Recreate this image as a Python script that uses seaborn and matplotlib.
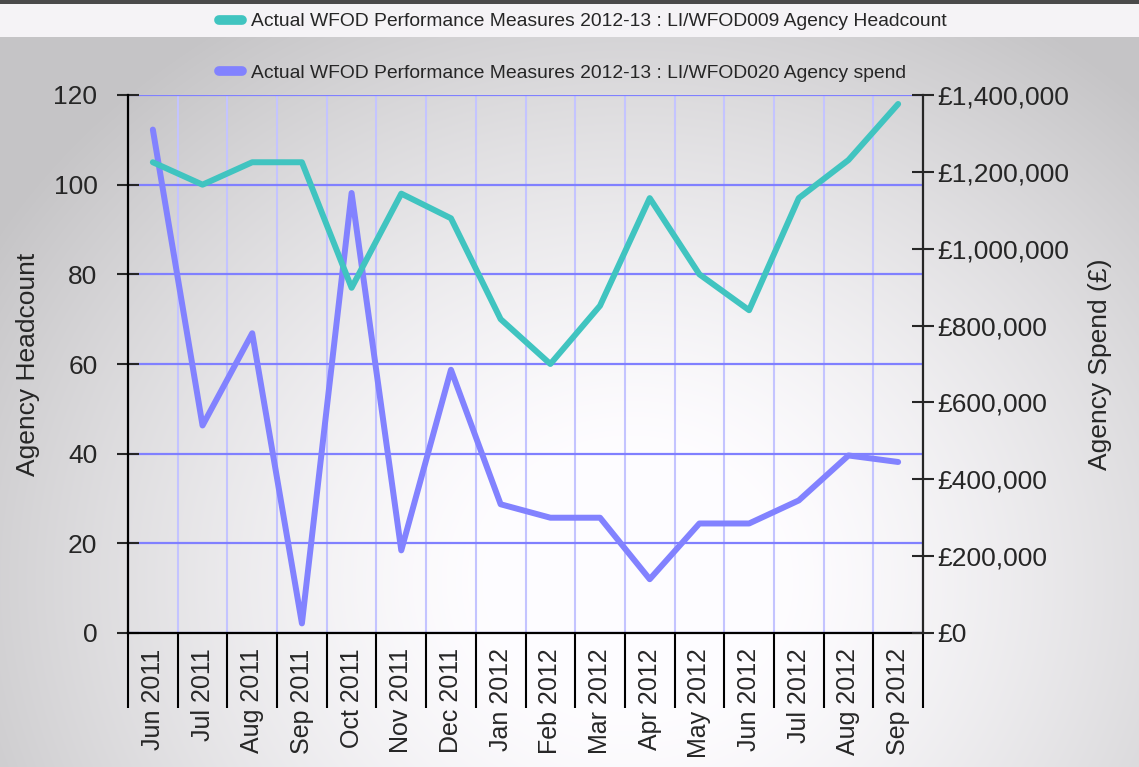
#!/usr/bin/env python3
"""
Agency headcount vs agency spend, dual axis line chart.
"""
import numpy as np
import pandas as pd
import matplotlib
matplotlib.use("Agg")
import matplotlib.pyplot as plt
import seaborn as sns
from matplotlib.ticker import FuncFormatter
from matplotlib.patches import Rectangle
from matplotlib.lines import Line2D

months = ["Jun 2011", "Jul 2011", "Aug 2011", "Sep 2011", "Oct 2011", "Nov 2011",
          "Dec 2011", "Jan 2012", "Feb 2012", "Mar 2012", "Apr 2012", "May 2012",
          "Jun 2012", "Jul 2012", "Aug 2012", "Sep 2012"]
headcount = [105, 100, 105, 105, 77, 98, 92.5, 70, 60, 73, 97, 80, 72, 97, 105.5, 118]
spend = [1310000, 540000, 780000, 25000, 1145000, 215000, 685000, 335000,
         300000, 300000, 140000, 285000, 285000, 345000, 462000, 445000]

headcount_ticks = [0, 20, 40, 60, 80, 100, 120]
spend_ticks = [0, 200000, 400000, 600000, 800000, 1000000, 1200000, 1400000]

label_head = "Actual WFOD Performance Measures 2012-13 : LI/WFOD009 Agency Headcount"
label_spend = "Actual WFOD Performance Measures 2012-13 : LI/WFOD020 Agency spend"

TEAL = "#40c4c0"
PURPLE = "#8282ff"

sns.set_style("ticks")
plt.rcParams["font.family"] = ["Liberation Sans", "DejaVu Sans"]

df = pd.DataFrame({"month": months, "headcount": headcount, "spend": spend})
df["pos"] = np.arange(len(df))

W, H = 1139, 767
fig = plt.figure(figsize=(W / 100, H / 100), dpi=100)

# radial grey background, white core low in the middle
bg = fig.add_axes([0, 0, 1, 1], zorder=-10)
yy, xx = np.mgrid[0:H, 0:W]
r = np.sqrt(((xx - 630) / 740.0) ** 2 + ((yy - 580) / 660.0) ** 2)
r = np.clip((r - 0.2) / 0.8, 0, 1)
g = 1 - 0.22 * r ** 1.3
img = np.clip(np.dstack([g * 0.995, g * 0.99, g * 1.0]), 0, 1)
bg.imshow(img, extent=[0, W, H, 0], aspect="auto")
bg.add_patch(Rectangle((0, 4), W, 33, color="#f5f3f6", lw=0))
bg.add_patch(Rectangle((0, 0), W, 4, color="#4a4a4a", lw=0))
bg.set_xlim(0, W)
bg.set_ylim(H, 0)
bg.axis("off")

left, right, top, bottom = 128, 923, 95, 633
rect = [left / W, 1 - bottom / H, (right - left) / W, (bottom - top) / H]
ax = fig.add_axes(rect)
ax.patch.set_visible(False)
ax2 = ax.twinx()
ax3 = ax.twinx()

# headcount axis + grid
ax.set_xlim(-0.5, len(months) - 0.5)
ax.set_ylim(0, 120)
ax.set_yticks(headcount_ticks)
ax.set_xticks(df["pos"])
ax.set_xticklabels(months, rotation=90, fontsize=18)
ax.set_xticks(np.arange(-0.5, len(months), 1), minor=True)
ax.tick_params(axis="x", which="major", length=0, pad=11)
ax.tick_params(axis="x", which="minor", length=54, width=1.5, direction="out", color="black")
ax.tick_params(axis="y", which="major", length=16, width=1.5, direction="inout",
               labelsize=19, pad=14)
ax.grid(axis="y", which="major", color="#8080ff", lw=1.6)
ax.grid(axis="x", which="minor", color="#c4c4ff", lw=1.5)
ax.set_axisbelow(True)
ax.set_ylabel("Agency Headcount", fontsize=19, labelpad=10)
for s in ["left", "bottom"]:
    ax.spines[s].set_linewidth(1.6)
    ax.spines[s].set_color("black")
ax.spines["top"].set_visible(False)
ax.spines["right"].set_visible(False)

# spend line on right axis
sns.lineplot(data=df, x="pos", y="spend", ax=ax2, color=PURPLE, linewidth=4.3,
             sort=False, legend=False)
ax2.set_ylim(0, 1400000)
ax2.set_yticks(spend_ticks)
ax2.yaxis.set_major_formatter(FuncFormatter(lambda v, p: f"£{v:,.0f}"))
ax2.tick_params(axis="y", length=16, width=1.5, direction="inout", labelsize=19, pad=2)
ax2.set_ylabel("Agency Spend (£)", fontsize=19, labelpad=14)
ax2.spines["right"].set_linewidth(1.6)
for s in ["top", "left", "bottom"]:
    ax2.spines[s].set_visible(False)

# headcount line drawn on top
sns.lineplot(data=df, x="pos", y="headcount", ax=ax3, color=TEAL, linewidth=4.3,
             sort=False, legend=False)
ax3.set_ylim(0, 120)
ax3.set_xlim(-0.5, len(months) - 0.5)
ax3.set_yticks([])
ax3.set_ylabel("")
for s in ax3.spines.values():
    s.set_visible(False)
ax2.set_xlabel("")
ax3.set_xlabel("")
ax.set_xlabel("")

handles = [Line2D([], [], color=TEAL, lw=7), Line2D([], [], color=PURPLE, lw=7)]
fig.legend(handles, [label_head, label_spend], loc="upper left",
           bbox_to_anchor=(0.177, 1.006), frameon=False, fontsize=13.9,
           handlelength=1.2, handletextpad=0.45, labelspacing=1.75)

fig.savefig("out.png", dpi=100)
